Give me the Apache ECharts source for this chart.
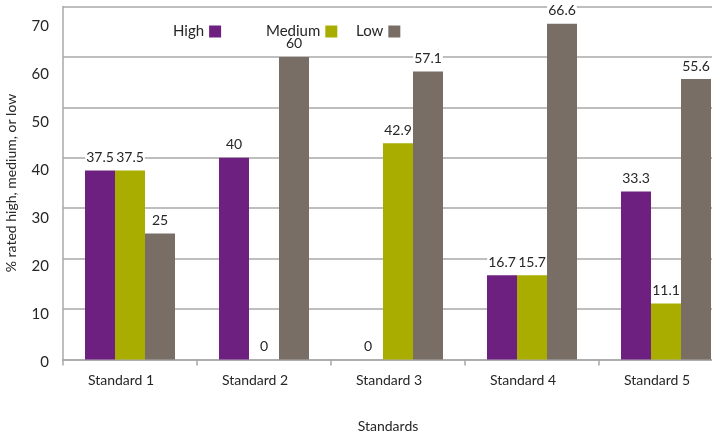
<!DOCTYPE html>
<html>
<head>
<meta charset="utf-8">
<script src="https://cdn.jsdelivr.net/npm/echarts@6/dist/echarts.min.js"></script>
<style>
html,body{margin:0;padding:0;background:#fff;}
#c{width:712px;height:437px;}
</style>
</head>
<body>
<div id="c"></div>
<script>
const categories = ['Standard 1', 'Standard 2', 'Standard 3', 'Standard 4', 'Standard 5'];
const highValues = [37.5, 40, 0, 16.7, 33.3];
const mediumValues = [37.5, 0, 42.9, 16.7, 11.1];
const lowValues = [25, 60, 57.1, 66.6, 55.6];
const highLabels = ['37.5', '40', '0', '16.7', '33.3'];
const mediumLabels = ['37.5', '0', '42.9', '15.7', '11.1'];
const lowLabels = ['25', '60', '57.1', '66.6', '55.6'];
const yTicks = [0, 10, 20, 30, 40, 50, 60, 70];

const FONT = 'Lato, "Open Sans", sans-serif';
const TXT = '#262626';
const GRID = '#a8a8a8';

function labelCfg(texts) {
  return {
    show: true,
    position: 'top',
    distance: 5,
    formatter: p => texts[p.dataIndex],
    color: TXT,
    fontFamily: FONT,
    fontSize: 14,
    backgroundColor: '#fff',
    padding: [1, 1]
  };
}
function legendCfg(name, left) {
  return {
    data: [name],
    left: left,
    top: 19,
    align: 'right',
    icon: 'rect',
    itemWidth: 12,
    itemHeight: 12,
    textStyle: { color: TXT, fontFamily: FONT, fontSize: 15 }
  };
}

const chart = echarts.init(document.getElementById('c'), null, { renderer: 'canvas' });
chart.setOption({
  animation: false,
  backgroundColor: '#fff',
  legend: [legendCfg('High', 168), legendCfg('Medium', 261), legendCfg('Low', 351)],
  grid: [
    { left: 63, width: 670, top: 6.5, height: 353, containLabel: false, outerBoundsMode: 'none' },
    { left: 63, width: 670, top: 26, height: 336, containLabel: false, outerBoundsMode: 'none' }
  ],
  xAxis: [{
    type: 'category',
    data: categories,
    name: 'Standards',
    nameLocation: 'middle',
    nameGap: 60,
    nameTextStyle: { color: TXT, fontFamily: FONT, fontSize: 14, padding: [0, 20, 0, 0] },
    axisLine: { lineStyle: { color: GRID, width: 1.5 } },
    axisTick: { show: true, length: 6, lineStyle: { color: GRID, width: 1.5 } },
    axisLabel: { color: TXT, fontFamily: FONT, fontSize: 14, margin: 14, padding: [0, 18, 0, 0] }
  }, {
    type: 'category',
    gridIndex: 1,
    data: categories,
    show: false
  }],
  yAxis: [{
    type: 'value',
    min: yTicks[0],
    max: yTicks[yTicks.length - 1],
    interval: 10,
    name: '% rated high, medium, or low',
    nameLocation: 'middle',
    nameGap: 45,
    nameTextStyle: { color: TXT, fontFamily: FONT, fontSize: 14 },
    axisLine: { show: true, lineStyle: { color: GRID, width: 1.5 } },
    axisTick: { show: false },
    axisLabel: { show: false },
    splitLine: { lineStyle: { color: GRID, width: 1.5 } }
  }, {
    type: 'value',
    gridIndex: 1,
    min: yTicks[0],
    max: yTicks[yTicks.length - 1],
    interval: 10,
    axisLine: { show: false },
    axisTick: { show: false },
    splitLine: { show: false },
    axisLabel: { color: TXT, fontFamily: FONT, fontSize: 15, margin: 14 }
  }],
  series: [
    { name: 'High', type: 'bar', data: highValues, barWidth: 30, barGap: '0%',
      itemStyle: { color: '#6d2080' }, label: labelCfg(highLabels) },
    { name: 'Medium', type: 'bar', data: mediumValues, barWidth: 30, barGap: '0%',
      itemStyle: { color: '#a9ad00' }, label: labelCfg(mediumLabels) },
    { name: 'Low', type: 'bar', data: lowValues, barWidth: 30, barGap: '0%',
      itemStyle: { color: '#786e66' }, label: labelCfg(lowLabels) }
  ]
});
</script>
</body>
</html>
